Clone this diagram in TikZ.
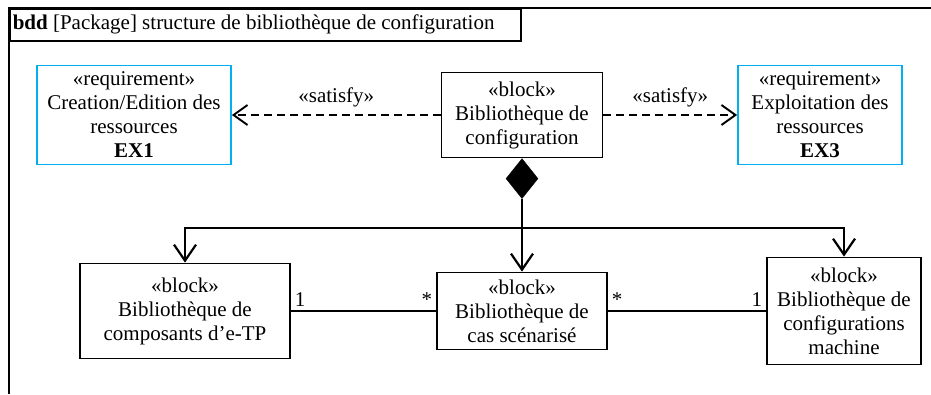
\documentclass[tikz,border=0pt]{standalone}
\usepackage{fontspec}
\setmainfont{Liberation Serif}
\usepackage{tikz}
\usetikzlibrary{arrows.meta, positioning, calc, shapes.geometric}
\definecolor{reqblue}{HTML}{00B0F0}

\begin{document}
\begin{tikzpicture}[
        x=1pt, y=-1pt,
        >={Straight Barb[length=16pt, width=22pt, line width=2.2pt]},
        every node/.style={font=\fontsize{21}{24}\selectfont},
        blockbox/.style={draw, line width=1.8pt, align=center, inner sep=2pt},
        reqbox/.style={draw=reqblue, line width=1.8pt, align=center, inner sep=2pt},
        satisfyarrow/.style={dash pattern=on 8pt off 5pt, line width=1.7pt,
          -{Straight Barb[length=14pt, width=20pt, line width=1.9pt]}},
        compline/.style={->, line width=2.2pt},
        assoc/.style={line width=1.5pt},
      ]
        \useasboundingbox (0,0) rectangle (931,394);
        % cadre du diagramme
        \node[draw, line width=1.5pt, anchor=north west, inner xsep=3pt, inner ysep=0pt,
          minimum height=32pt] (titre) at (9,8)
          {\makebox[505pt][l]{\textbf{bdd} [Package] structure de bibliothèque de configuration}};
        \coordinate (cadrebas) at (9,394);
        \coordinate (cadredroit) at (931,8);
        \draw[line width=1.5pt] (cadrebas) -- (titre.north west) -- (cadredroit);
        % blocs
        \node[blockbox, minimum width=161pt, minimum height=85pt] (cfg) at (522,115)
          {«block»\\Bibliothèque de\\configuration};
        \node[reqbox, minimum width=194pt, minimum height=99pt] (req1) at (134,115)
          {«requirement»\\Creation/Edition des\\ressources\\\textbf{EX1}};
        \node[reqbox, minimum width=164pt, minimum height=99pt] (req2) at (820,115)
          {«requirement»\\Exploitation des\\ressources\\\textbf{EX3}};
        \node[blockbox, minimum width=210pt, minimum height=95pt] (comp) at (185,311)
          {«block»\\Bibliothèque de\\composants d’e-TP};
        \node[blockbox, minimum width=170pt, minimum height=77pt] (cas) at (522,311)
          {«block»\\Bibliothèque de\\cas scénarisé};
        \node[blockbox, minimum width=154pt, minimum height=107pt] (mach) at (844,311)
          {«block»\\Bibliothèque de\\configurations\\machine};
        % satisfy
        \draw[satisfyarrow] (cfg) -- node[above=4pt] {«satisfy»} (req1);
        \draw[satisfyarrow] (cfg) -- node[above=4pt] {«satisfy»} (req2);
        % composition
        \node[diamond, draw, fill, inner sep=0pt, minimum width=32pt, minimum height=40pt,
          anchor=north] (losange) at (cfg.south) {};
        \coordinate (branche) at (losange.south |- 0,228);
        \draw[line width=2.2pt] (losange.south) -- (branche);
        \draw[compline] (branche) -| (comp.north);
        \draw[compline] (branche) -- (cas.north);
        \draw[compline] (branche) -| (mach.north);
        % associations
        \draw[assoc] (comp.east) -- (cas.west)
          node[pos=0, above right] {1} node[pos=1, above left] {*};
        \draw[assoc] (cas.east) -- (mach.west)
          node[pos=0, above right] {*} node[pos=1, above left] {1};
      \end{tikzpicture}
\end{document}
